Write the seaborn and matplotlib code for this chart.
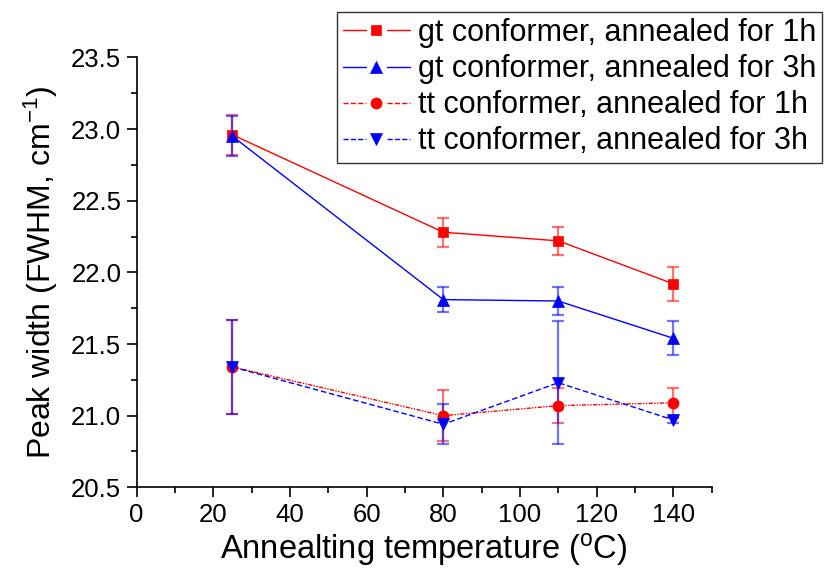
import matplotlib
matplotlib.use("Agg")
import matplotlib.pyplot as plt
from matplotlib.ticker import MultipleLocator, FormatStrFormatter
from matplotlib.legend_handler import HandlerLine2D
from matplotlib.lines import Line2D
import pandas as pd
import seaborn as sns

# Annealing temperatures (°C)
temperature = [25, 80, 110, 140]

# Peak width (FWHM, cm^-1) and its uncertainty for each conformer / annealing time
gt_1h = [22.96, 22.28, 22.22, 21.92]
gt_1h_err = [0.14, 0.10, 0.10, 0.12]
gt_3h = [22.95, 21.81, 21.80, 21.54]
gt_3h_err = [0.14, 0.085, 0.10, 0.12]
tt_1h = [21.34, 21.00, 21.07, 21.09]
tt_1h_err = [0.33, 0.18, 0.12, 0.105]
tt_3h = [21.34, 20.94, 21.23, 20.97]
tt_3h_err = [0.33, 0.14, 0.43, 0.02]

series_labels = ["gt conformer, annealed for 1h",
                 "gt conformer, annealed for 3h",
                 "tt conformer, annealed for 1h",
                 "tt conformer, annealed for 3h"]

sns.set_style("ticks")
plt.rcParams["font.family"] = ["Liberation Sans", "DejaVu Sans"]
plt.rcParams["mathtext.default"] = "regular"
for key in ["text.color", "axes.labelcolor", "xtick.color", "ytick.color", "axes.edgecolor"]:
    plt.rcParams[key] = "black"


class GappedLineHandler(HandlerLine2D):
    """Legend key: line segment, gap, marker, gap, line segment."""

    def create_artists(self, legend, orig_handle, xdescent, ydescent,
                       width, height, fontsize, trans):
        y = height / 2.0 - ydescent
        x0 = -xdescent
        gap = 0.16 * width
        mid = x0 + width / 2.0
        artists = []
        for a, b in [(x0, mid - gap), (mid + gap, x0 + width)]:
            seg = Line2D([a, b], [y, y], color=orig_handle.get_color(),
                         linestyle=orig_handle.get_linestyle(),
                         linewidth=orig_handle.get_linewidth())
            seg.set_transform(trans)
            artists.append(seg)
        mk = Line2D([mid], [y], linestyle="none", marker=orig_handle.get_marker(),
                    markersize=orig_handle.get_markersize(),
                    color=orig_handle.get_color(),
                    markeredgecolor=orig_handle.get_markeredgecolor(),
                    markeredgewidth=orig_handle.get_markeredgewidth())
        mk.set_transform(trans)
        artists.append(mk)
        return artists


fig = plt.figure(figsize=(8.28, 5.74), dpi=100)
ax = fig.add_axes([0.165, 0.151, 0.6945, 0.749])

styles = [
    dict(vals=gt_1h, err=gt_1h_err, color="#ff0000", marker="s", ls="-", ms=7),
    dict(vals=gt_3h, err=gt_3h_err, color="#0000ff", marker="^", ls="-", ms=8.5),
    dict(vals=tt_1h, err=tt_1h_err, color="#ff0000", marker="o", ls=(0, (3, 1, 1, 1, 1, 1)), ms=8),
    dict(vals=tt_3h, err=tt_3h_err, color="#0000ff", marker="v", ls=(0, (4, 2)), ms=8.5),
]

frames = []
for lab, st in zip(series_labels, styles):
    frames.append(pd.DataFrame({"T": temperature, "W": st["vals"], "E": st["err"], "series": lab}))
df = pd.concat(frames, ignore_index=True)

for lab, st in zip(series_labels, styles):
    sub = df[df["series"] == lab]
    ax.errorbar(sub["T"], sub["W"], yerr=sub["E"], fmt="none", ecolor=st["color"],
                elinewidth=1.6, capsize=4, capthick=1.6, alpha=0.55, zorder=2)
    sns.lineplot(data=sub, x="T", y="W", ax=ax, color=st["color"], linestyle=st["ls"],
                 linewidth=1.0, marker=st["marker"], markersize=st["ms"],
                 markeredgecolor=st["color"], markeredgewidth=0.5, label=lab, zorder=3)

ax.set_xlim(0, 150)
ax.set_ylim(20.5, 23.5)
ax.xaxis.set_major_locator(MultipleLocator(20))
ax.xaxis.set_minor_locator(MultipleLocator(10))
ax.yaxis.set_major_locator(MultipleLocator(0.5))
ax.yaxis.set_minor_locator(MultipleLocator(0.25))
ax.yaxis.set_major_formatter(FormatStrFormatter("%.1f"))
ax.tick_params(axis="both", which="major", direction="out", length=7, width=1.2,
               labelsize=18.5, colors="black", pad=4)
ax.tick_params(axis="both", which="minor", direction="out", length=4, width=1.2)
for side in ["top", "right"]:
    ax.spines[side].set_visible(False)
for side in ["left", "bottom"]:
    ax.spines[side].set_linewidth(1.2)
    ax.spines[side].set_color("black")

ax.set_xlabel("Annealting temperature ($^{o}$C)", fontsize=23.5, labelpad=3)
ax.set_ylabel("Peak width (FWHM, cm$^{-1}$)", fontsize=23, labelpad=8)

handles, labels = ax.get_legend_handles_labels()
leg = ax.legend(handles, labels, loc="upper right", bbox_to_anchor=(0.993, 0.979),
                bbox_transform=fig.transFigure, fontsize=22, frameon=True,
                fancybox=False, edgecolor="black", handlelength=2.2,
                handletextpad=0.25, borderpad=0.2, labelspacing=0.2, borderaxespad=0,
                handler_map={Line2D: GappedLineHandler()})
leg.get_frame().set_linewidth(1.0)

fig.savefig("out.png", dpi=100)
